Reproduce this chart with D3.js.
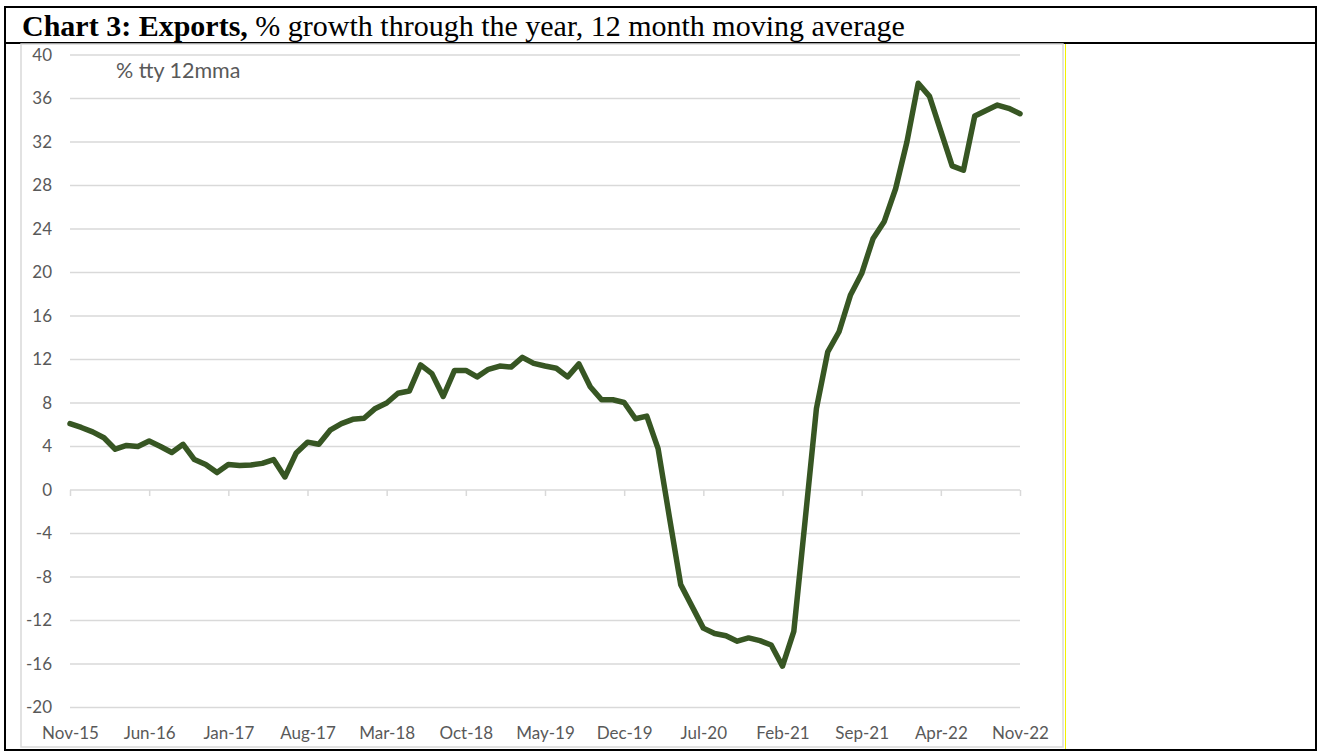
<!DOCTYPE html>
<html><head><meta charset="utf-8">
<script src="https://cdn.jsdelivr.net/npm/d3@7"></script>
<style>body{margin:0;background:#fff}</style>
</head><body>
<svg id="c" width="1322" height="756"></svg>
<script>
// ---- data ----
const firstMonth = "2015-11";
const monthCount = 85;
const exportsGrowth = [
  6.1, 5.75, 5.35, 4.8, 3.75, 4.1, 4.0, 4.5, 4.0, 3.45, 4.2, 2.8, 2.35, 1.6,
  2.35, 2.25, 2.3, 2.45, 2.8, 1.2, 3.4, 4.4, 4.2, 5.5, 6.1, 6.5, 6.6, 7.5,
  8.0, 8.9, 9.1, 11.5, 10.7, 8.6, 11.0, 11.0, 10.4, 11.1, 11.4, 11.3, 12.2, 11.65,
  11.4, 11.2, 10.4, 11.6, 9.5, 8.3, 8.3, 8.05, 6.55, 6.8, 3.8, -2.5, -8.7, -10.7,
  -12.7, -13.2, -13.4, -13.9, -13.6, -13.85, -14.25, -16.2, -13.0, -2.8, 7.5, 12.7,
  14.55, 17.9, 19.9, 23.1, 24.7, 27.7, 32.0, 37.4, 36.2, 33.0, 29.8, 29.4, 34.4,
  34.9, 35.4, 35.1, 34.6
];
const yTickValues = [-20, -16, -12, -8, -4, 0, 4, 8, 12, 16, 20, 24, 28, 32, 36, 40];
const xTickLabels = ["Nov-15","Jun-16","Jan-17","Aug-17","Mar-18","Oct-18","May-19",
  "Dec-19","Jul-20","Feb-21","Sep-21","Apr-22","Nov-22"];
const titleBold = "Chart 3: Exports,";
const titleRest = " % growth through the year, 12 month moving average";
const unitNote = "% tty 12mma";

// ---- categories ----
const start = d3.timeParse("%Y-%m")(firstMonth);
const fmt = d3.timeFormat("%b-%y");
const categories = d3.timeMonth.range(start, d3.timeMonth.offset(start, monthCount)).map(fmt);

const svg = d3.select("#c");
const axisFont = "Lato, 'Open Sans', sans-serif";
const grey = "#595959";

// table borders
svg.append("rect").attr("x", 5).attr("y", 7).attr("width", 1311).attr("height", 743)
  .attr("fill", "none").attr("stroke", "#000").attr("stroke-width", 2);
svg.append("line").attr("x1", 5).attr("x2", 1316).attr("y1", 43).attr("y2", 43)
  .attr("stroke", "#000").attr("stroke-width", 2);

// chart area border
svg.append("rect").attr("x", 21).attr("y", 44).attr("width", 1042).attr("height", 703)
  .attr("fill", "none").attr("stroke", "#d9d9d9").attr("stroke-width", 1.5);
svg.append("line").attr("x1", 1065.5).attr("x2", 1065.5).attr("y1", 44).attr("y2", 749)
  .attr("stroke", "#f2f200").attr("stroke-width", 1);

// title
const t = svg.append("text").attr("x", 22).attr("y", 36)
  .attr("font-family", "'Liberation Serif', 'Times New Roman', serif")
  .attr("font-size", 30).attr("fill", "#000");
t.append("tspan").attr("font-weight", "bold").text(titleBold);
t.append("tspan").text(titleRest);

// scales
const x = d3.scalePoint().domain(categories).range([70, 1020]);
const y = d3.scaleLinear().domain([-20, 40]).range([707.5, 55]);

// gridlines
svg.append("g").selectAll("line").data(yTickValues).join("line")
  .attr("x1", 70).attr("x2", 1020)
  .attr("y1", d => y(d)).attr("y2", d => y(d))
  .attr("stroke", "#d9d9d9").attr("stroke-width", 1.5);

// y axis labels
const yAxis = svg.append("g").attr("transform", "translate(52,0)")
  .call(d3.axisLeft(y).tickValues(yTickValues).tickSize(0).tickPadding(0)
    .tickFormat(d => String(d)));
yAxis.select(".domain").remove();
yAxis.selectAll("text").attr("font-family", axisFont).attr("font-size", 17).attr("fill", grey);

// x tick marks at zero line
const xTicks = svg.append("g").attr("transform", `translate(0,${y(0)})`)
  .call(d3.axisBottom(x).tickValues(xTickLabels).tickSize(6).tickFormat(""));
xTicks.select(".domain").remove();
xTicks.selectAll("line").attr("stroke", "#d9d9d9").attr("stroke-width", 1.5);

// x labels at bottom
const xLab = svg.append("g").attr("transform", "translate(0,733)")
  .call(d3.axisBottom(x).tickValues(xTickLabels).tickSize(0).tickPadding(0));
xLab.select(".domain").remove();
xLab.selectAll("text").attr("y", 0).attr("dy", "0.35em")
  .attr("font-family", axisFont).attr("font-size", 17).attr("fill", grey);

// line
svg.append("path").datum(exportsGrowth)
  .attr("fill", "none").attr("stroke", "#375623").attr("stroke-width", 5.5)
  .attr("stroke-linejoin", "round").attr("stroke-linecap", "round")
  .attr("d", d3.line().x((d, i) => x(categories[i])).y(d => y(d)));

// unit note
svg.append("text").attr("x", 116).attr("y", 78).text(unitNote)
  .attr("font-family", axisFont).attr("font-size", 21.5).attr("fill", grey);
</script>
</body></html>
